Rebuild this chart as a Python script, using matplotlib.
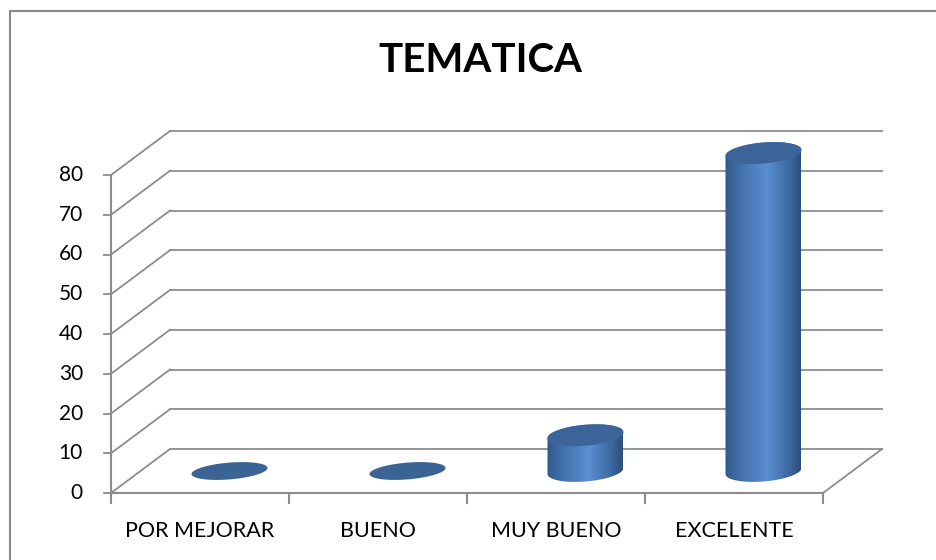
import numpy as np
import matplotlib.pyplot as plt
from matplotlib.patches import Polygon
from matplotlib.colors import LinearSegmentedColormap
from matplotlib.lines import Line2D

# data
categories = ["POR MEJORAR", "BUENO", "MUY BUENO", "EXCELENTE"]
values = [0, 0, 9, 80]
yticks = [0, 10, 20, 30, 40, 50, 60, 70, 80]
title = "TEMATICA"

W, H = 937, 560
fig = plt.figure(figsize=(W / 100, H / 100), dpi=100)
ax = fig.add_axes([0, 0, 1, 1])
ax.axis("off")

# pixel layout of the oblique "3d" frame
x0_px, y0_px = 111, 493      # front origin
cat_px = 178                 # width of one category
unit_px = 3.975              # pixels per value unit
ax.set_xlim(-x0_px / cat_px, (W - x0_px) / cat_px)
ax.set_ylim((y0_px - H) / unit_px, y0_px / unit_px)

dx = 59 / cat_px             # depth offset in x
dv = 44 / unit_px            # depth offset in value
n = len(categories)
ymax = yticks[-1]
grid_c = "#8c8c8c"

# back wall, side wall, floor
for v in yticks:
    ax.plot([dx, n + dx], [v + dv, v + dv], color=grid_c, lw=1.3, zorder=1)
    ax.plot([0, dx], [v, v + dv], color=grid_c, lw=1.3, zorder=1)
    ax.plot([-7 / cat_px, 0], [v, v], color=grid_c, lw=1.3, zorder=3)
    ax.text(-28 / cat_px, v, str(v), ha="right", va="center",
            fontsize=15, family="Lato", color="black")
ax.plot([0, n], [0, 0], color=grid_c, lw=1.5, zorder=3)
ax.plot([n, n + dx], [0, dv], color=grid_c, lw=1.3, zorder=1)
ax.plot([0, 0], [0, ymax], color=grid_c, lw=1.5, zorder=3)
for i in range(n + 1):
    ax.plot([i, i], [0, -10 / unit_px], color=grid_c, lw=1.5, zorder=3)

for i, c in enumerate(categories):
    ax.text(i + 0.5, -38 / unit_px, c, ha="center", va="center",
            fontsize=15.5, family="Lato", color="black")

# cylinders
cmap = LinearSegmentedColormap.from_list(
    "cyl", [(0, "#31598c"), (0.15, "#3f6ba3"), (0.55, "#5b8fd2"),
            (0.85, "#3d68a0"), (1, "#2b4d79")])
a = 38 / cat_px
b = 10.5 / unit_px
s = 3 / unit_px
t = np.linspace(0, 2 * np.pi, 200)

for i, v in enumerate(values):
    cx = i + 0.5 + dx / 2
    cy = dv / 2
    ex = cx + a * np.cos(t)
    if v > 0:
        tb = np.linspace(np.pi, 2 * np.pi, 100)
        tt = np.linspace(0, np.pi, 100)
        bx = cx + a * np.cos(tb)
        by = cy + b * np.sin(tb) + s * np.cos(tb)
        tx = cx + a * np.cos(tt)
        ty = cy + v + b * np.sin(tt) + s * np.cos(tt)
        body = Polygon(np.column_stack([np.r_[bx, tx], np.r_[by, ty]]),
                       closed=True, facecolor="none", edgecolor="none")
        ax.add_patch(body)
        grad = np.linspace(0, 1, 256).reshape(1, -1)
        im = ax.imshow(grad, cmap=cmap, aspect="auto", interpolation="bilinear",
                       extent=[cx - a, cx + a, cy - b - s, cy + v + b + s],
                       zorder=4)
        im.set_clip_path(body)
        ax.fill(ex, cy + v + b * np.sin(t) + s * np.cos(t),
                color="#3c6498", zorder=5, lw=0)
    else:
        ax.fill(ex, cy + 0.8 * b * np.sin(t) + s * np.cos(t),
                color="#3b6394", zorder=5, lw=0)

ax.set_xlim(-x0_px / cat_px, (W - x0_px) / cat_px)
ax.set_ylim((y0_px - H) / unit_px, y0_px / unit_px)

fig.text(480.5 / W, 1 - 60 / H, title, ha="center", va="center",
         fontsize=29, fontweight="bold", family="Lato")

# outer border
fig.add_artist(Line2D([10.5 / W, 10.5 / W], [0, 1 - 11 / H],
                      color="#8a8a8a", lw=1.5))
fig.add_artist(Line2D([10 / W, 1], [1 - 11 / H, 1 - 11 / H],
                      color="#8a8a8a", lw=1.5))

fig.savefig("out.png", dpi=100)
